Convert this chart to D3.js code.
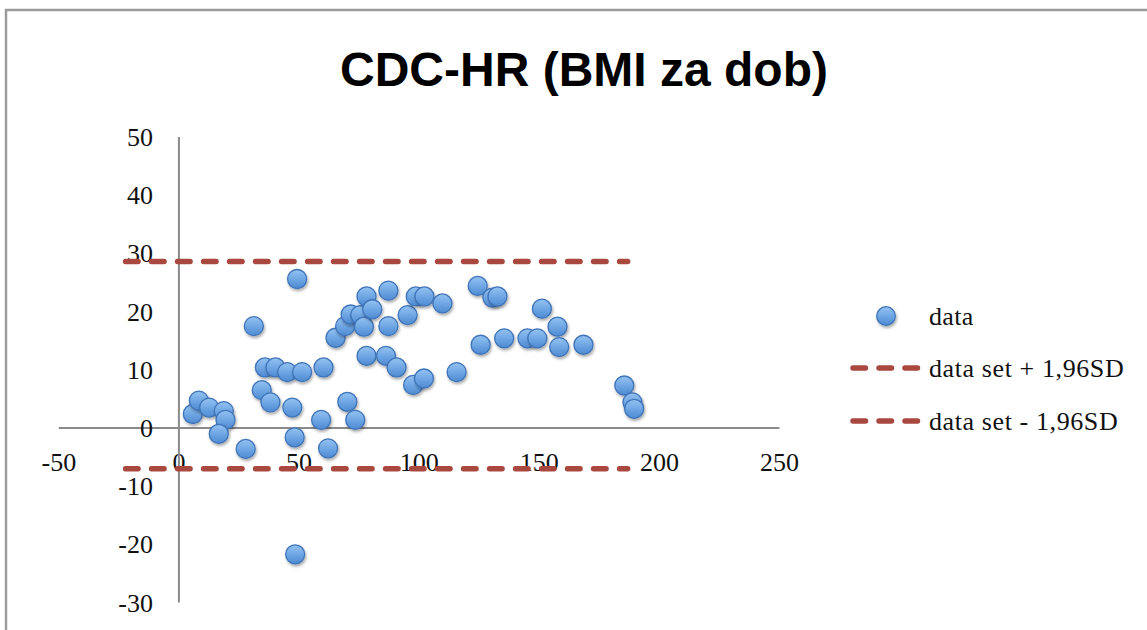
<!DOCTYPE html>
<html>
<head>
<meta charset="utf-8">
<script src="https://cdn.jsdelivr.net/npm/d3@7"></script>
<style>
  html, body { margin: 0; padding: 0; background: #fff; }
  svg { display: block; }
</style>
</head>
<body>
<svg id="chart" width="1147" height="630"></svg>
<script>
// ---- data ----
const title = "CDC-HR (BMI za dob)";
const xValues = [6.0, 8.5, 12.8, 18.9, 19.6, 16.8, 28.0, 31.4, 34.7, 38.3, 36.0, 40.4, 45.3, 51.5, 47.4, 48.4, 49.4, 48.6,
  59.4, 62.3, 60.4, 65.4, 69.4, 71.7, 75.7, 77.2, 78.3, 80.7, 87.4, 87.4, 70.3, 73.6, 78.3, 86.4, 90.8, 95.4, 98.8, 102.4,
  109.9, 97.7, 102.2, 115.8, 124.6, 125.8, 130.7, 132.8, 135.6, 145.3, 149.4, 151.3, 157.8, 158.5, 168.6, 185.6, 189.0, 189.7];
const yValues = [2.3, 4.6, 3.4, 2.8, 1.3, -1.1, -3.7, 17.4, 6.4, 4.3, 10.3, 10.3, 9.5, 9.5, 3.4, -1.7, 25.5, -21.8,
  1.3, -3.6, 10.3, 15.4, 17.4, 19.4, 19.3, 17.3, 22.5, 20.3, 23.5, 17.4, 4.4, 1.3, 12.3, 12.3, 10.3, 19.3, 22.5, 22.5,
  21.3, 7.3, 8.4, 9.5, 24.3, 14.2, 22.3, 22.5, 15.3, 15.3, 15.3, 20.4, 17.3, 13.8, 14.2, 7.2, 4.3, 3.2];
const limitX = [-22, 187];
const upperY = [28.5, 28.5];
const lowerY = [-7.1, -7.1];
const xTicks = [-50, 0, 50, 100, 150, 200, 250];
const yTicks = [-30, -20, -10, 0, 10, 20, 30, 40, 50];
const legendLabels = ["data", "data set + 1,96SD", "data set - 1,96SD"];

// ---- drawing ----
const svg = d3.select("#chart");
const labelFont = "'Liberation Serif', 'Times New Roman', serif";
const dashColor = "#a8483f";
const fmt = d => String(d);

const x = d3.scaleLinear().domain([-50, 250]).range([58.3, 779]);
const y = d3.scaleLinear().domain([-30, 50]).range([602, 136.4]);

const defs = svg.append("defs");
const grad = defs.append("linearGradient").attr("id", "dotGrad")
  .attr("x1", 0).attr("y1", 0).attr("x2", 0).attr("y2", 1);
grad.append("stop").attr("offset", "0%").attr("stop-color", "#95c3f2");
grad.append("stop").attr("offset", "55%").attr("stop-color", "#6ca4e2");
grad.append("stop").attr("offset", "100%").attr("stop-color", "#4f8ad2");
const filt = defs.append("filter").attr("id", "shadow")
  .attr("x", "-50%").attr("y", "-50%").attr("width", "200%").attr("height", "200%");
filt.append("feDropShadow").attr("dx", 1).attr("dy", 2).attr("stdDeviation", 1.6)
  .attr("flood-color", "#000").attr("flood-opacity", 0.35);

// frame
svg.append("rect").attr("x", 6).attr("y", 10).attr("width", 1300).attr("height", 800)
  .attr("fill", "#fff").attr("stroke", "#9c9c9c").attr("stroke-width", 2.5);

// title
svg.append("text").attr("x", 584).attr("y", 86).attr("text-anchor", "middle")
  .attr("font-family", "'Liberation Sans', Arial, sans-serif").attr("font-weight", "bold")
  .attr("font-size", 48).attr("fill", "#000").text(title);

// axes
const xAxis = d3.axisBottom(x).tickValues(xTicks).tickSize(0).tickPadding(0).tickFormat(fmt);
const gx = svg.append("g").attr("transform", `translate(0,${y(0)})`).call(xAxis);
gx.select(".domain").attr("stroke", "#8a8a8a").attr("stroke-width", 2);
gx.selectAll("text").attr("font-family", labelFont).attr("font-size", 26).attr("fill", "#111")
  .attr("dy", null).attr("y", 0).attr("transform", `translate(0,${471 - y(0)})`);

const yAxis = d3.axisLeft(y).tickValues(yTicks).tickSize(0).tickPadding(0).tickFormat(fmt);
const gy = svg.append("g").attr("transform", `translate(${x(0)},0)`).call(yAxis);
gy.select(".domain").attr("stroke", "#8a8a8a").attr("stroke-width", 2);
gy.selectAll("text").attr("font-family", labelFont).attr("font-size", 26).attr("fill", "#111")
  .attr("x", 153 - x(0)).attr("dy", "0.35em");

// limit lines
const line = d3.line().x(d => x(d[0])).y(d => y(d[1]));
[upperY, lowerY].forEach(ys => {
  svg.append("path").datum(limitX.map((xv, i) => [xv, ys[i]]))
    .attr("d", line).attr("fill", "none").attr("stroke", dashColor)
    .attr("stroke-width", 5.5).attr("stroke-linecap", "round").attr("stroke-dasharray", "12.5 13.5");
});

// points
svg.append("g").selectAll("circle").data(xValues.map((xv, i) => [xv, yValues[i]])).join("circle")
  .attr("cx", d => x(d[0])).attr("cy", d => y(d[1])).attr("r", 9.5)
  .attr("fill", "url(#dotGrad)").attr("stroke", "#3f74b8").attr("stroke-width", 1.3)
  .attr("filter", "url(#shadow)");

// legend
const lg = svg.append("g");
const rowsY = [316, 368, 421];
lg.append("circle").attr("cx", 886).attr("cy", rowsY[0]).attr("r", 9.3)
  .attr("fill", "url(#dotGrad)").attr("stroke", "#3f74b8").attr("stroke-width", 1.3).attr("filter", "url(#shadow)");
[1, 2].forEach(i => {
  lg.append("line").attr("x1", 853).attr("x2", 918).attr("y1", rowsY[i]).attr("y2", rowsY[i])
    .attr("stroke", dashColor).attr("stroke-width", 5.5).attr("stroke-linecap", "round")
    .attr("stroke-dasharray", "12.5 13.5");
});
legendLabels.forEach((t, i) => {
  lg.append("text").attr("x", 929).attr("y", rowsY[i] + 9)
    .attr("font-family", labelFont).attr("font-size", 26).attr("fill", "#111")
    .attr("letter-spacing", i === 0 ? 0.3 : 0.6).text(t);
});
</script>
</body>
</html>
